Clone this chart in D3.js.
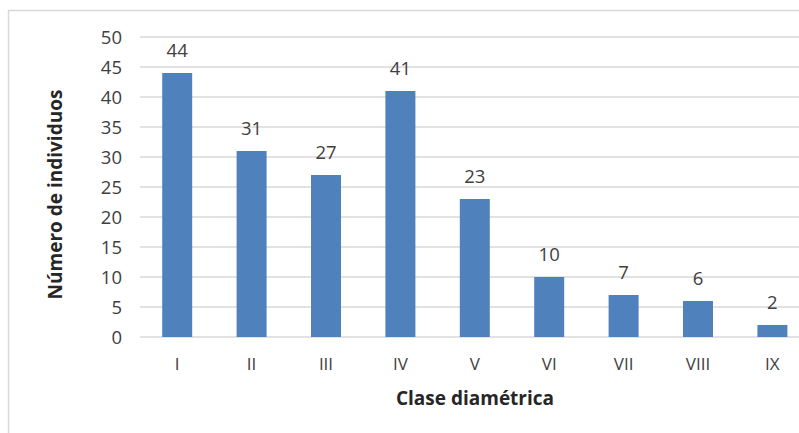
<!DOCTYPE html>
<html><head><meta charset="utf-8">
<script src="https://cdn.jsdelivr.net/npm/d3@7"></script>
<style>body{margin:0;background:#fff}svg{display:block}</style>
</head><body>
<svg id="c" width="799" height="433"></svg>
<script>
const categories = ["I","II","III","IV","V","VI","VII","VIII","IX"];
const values = [44,31,27,41,23,10,7,6,2];
const yTicks = [0,5,10,15,20,25,30,35,40,45,50];

const svg = d3.select("#c");
const font = "'Open Sans', 'Liberation Sans', sans-serif";
const txt = "#404040";
// outer frame
svg.append("rect").attr("x",8.5).attr("y",10.5).attr("width",820).attr("height",450)
  .attr("fill","none").attr("stroke","#d9d9d9").attr("stroke-width",1.5);

const x = d3.scaleBand().domain(categories).range([140, 809.6]).paddingInner(0.597).paddingOuter(0.2985);
const y = d3.scaleLinear().domain([0,50]).range([337,37]);

const g = svg.append("g");
g.selectAll("line.grid").data(yTicks).join("line")
  .attr("x1",140).attr("x2",810).attr("y1",d=>y(d)).attr("y2",d=>y(d))
  .attr("stroke","#d9d9d9").attr("stroke-width",1.5);
g.selectAll("text.yt").data(yTicks).join("text")
  .attr("x",122).attr("y",d=>y(d)).attr("dy","0.36em").attr("text-anchor","end")
  .attr("font-family",font).attr("font-size",18.5).attr("fill",txt).text(d=>d);

g.selectAll("rect.bar").data(values).join("rect")
  .attr("x",(d,i)=>x(categories[i])).attr("width",x.bandwidth())
  .attr("y",d=>y(d)).attr("height",d=>y(0)-y(d)).attr("fill","#4f81bd");
g.selectAll("text.lab").data(values).join("text")
  .attr("x",(d,i)=>x(categories[i])+x.bandwidth()/2).attr("y",d=>y(d)-16)
  .attr("text-anchor","middle").attr("font-family",font).attr("font-size",18.5).attr("fill",txt).text(d=>d);
g.selectAll("text.xt").data(categories).join("text")
  .attr("x",d=>x(d)+x.bandwidth()/2).attr("y",370)
  .attr("text-anchor","middle").attr("font-family",font).attr("font-size",17).attr("fill",txt).text(d=>d);

svg.append("text").attr("x",475).attr("y",398).attr("dy","0.36em").attr("text-anchor","middle")
  .attr("font-family",font).attr("font-size",19).attr("font-weight","bold").attr("fill","#262626").text("Clase diamétrica");
svg.append("text").attr("transform","translate(55,194.5) rotate(-90)").attr("dy","0.36em").attr("text-anchor","middle")
  .attr("font-family",font).attr("font-size",19).attr("font-weight","bold").attr("fill","#262626").text("Número de individuos");
</script>
</body></html>
